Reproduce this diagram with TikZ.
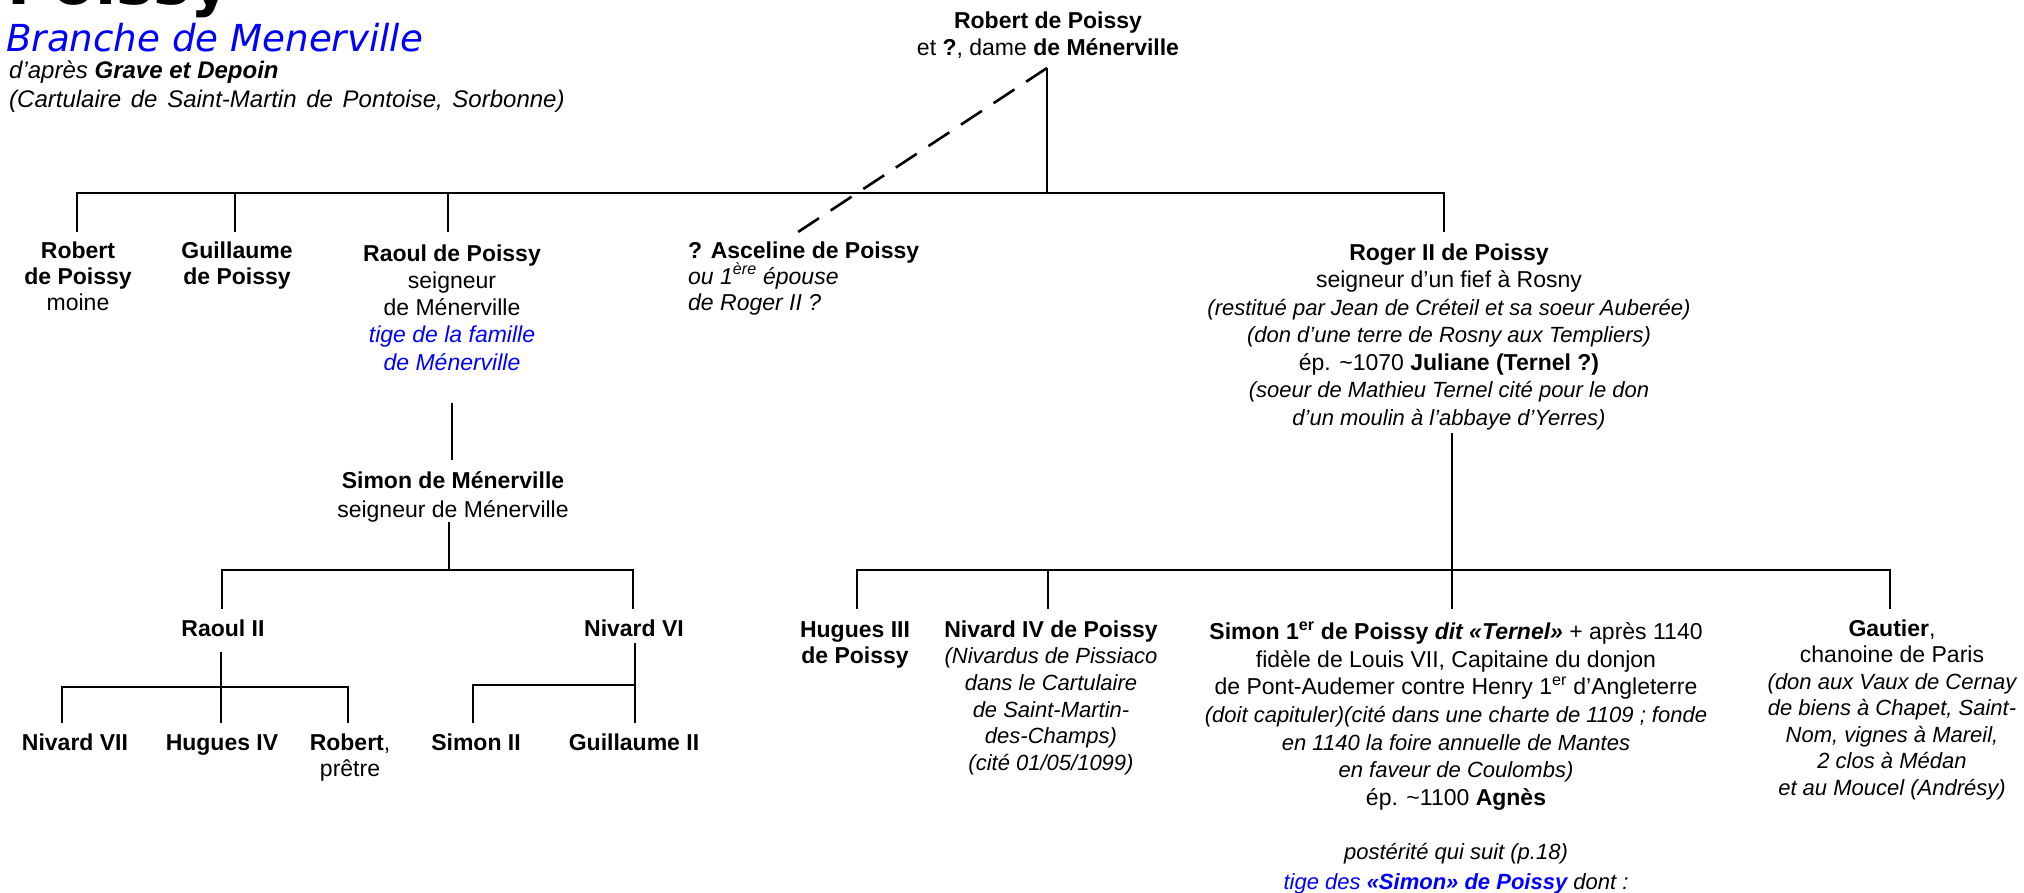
\documentclass[tikz,border=0pt]{standalone}
\usepackage{fontspec}
\setmainfont{Liberation Sans}
\newfontfamily\djv{DejaVu Sans}
\definecolor{tblue}{RGB}{0,0,255}
\newcommand{\nt}{\fontsize{22}{\baselineskip}\selectfont\itshape}
\tikzset{
  ln/.style={line width=2.6pt, draw=black},
  dashln/.style={line width=2.6pt, draw=black, dash pattern=on 25pt off 14pt},
  person/.style={align=center, inner sep=0pt, anchor=base, font=\fontsize{23}{#1}\selectfont},
  person/.default=26.5,
}
\begin{document}
\begin{tikzpicture}[x=1pt, y=-1pt]
\useasboundingbox (0,0) rectangle (2024,892);
\fill[white] (0,0) rectangle (2024,892);

% title block (node base = baseline of last line)
\node[anchor=base west, inner sep=0pt, font=\djv\bfseries\fontsize{62}{62}\selectfont] (title) at (7,4) {Poissy};
\node[anchor=base west, inner sep=0pt, text=tblue, font=\djv\itshape\fontsize{37.2}{40}\selectfont] (branch) at (6,51) {Branche de Menerville};
\node[anchor=base west, inner sep=0pt, align=left, font=\fontsize{24}{29}\selectfont\itshape] (source) at (9,107)
  {d’après \textbf{Grave et Depoin}\\{\spaceskip=9.7pt plus 2pt minus 1pt (Cartulaire de Saint-Martin de Pontoise, Sorbonne)}};

% root couple
\node[person=27] (root) at (1048,55) {\textbf{Robert de Poissy}\\et \textbf{?}, dame \textbf{de Ménerville}};

% level 1
\node[person=26] (robert) at (78,310) {\textbf{Robert}\\\textbf{de Poissy}\\moine};
\node[person=26] (guil) at (237,284) {\textbf{Guillaume}\\\textbf{de Poissy}};
\node[person=27.25] (raoul) at (452,370) {\textbf{Raoul de Poissy}\\seigneur\\de Ménerville\\{\itshape\color{tblue}tige de la famille}\\{\itshape\color{tblue}de Ménerville}};
\node[person=26, anchor=base west, align=left] (asc) at (688,310) {\textbf{? Asceline de Poissy}\\{\itshape ou 1\textsuperscript{ère} épouse}\\{\itshape de Roger II ?}};
\node[person=27.5] (roger) at (1449,425) {\textbf{Roger II de Poissy}\\seigneur d’un fief à Rosny\\{\nt (restitué par Jean de Créteil et sa soeur Auberée)}\\{\nt (don d’une terre de Rosny aux Templiers)}\\ép. \textasciitilde1070 \textbf{Juliane (Ternel ?)}\\{\nt (soeur de Mathieu Ternel cité pour le don}\\{\nt d’un moulin à l’abbaye d’Yerres)}};

% Menerville branch
\node[person=29] (simonm) at (453,517) {\textbf{Simon de Ménerville}\\seigneur de Ménerville};
\node[person] (raoul2) at (223,636) {\textbf{Raoul II}};
\node[person] (nivard6) at (634,636) {\textbf{Nivard VI}};
\node[person] (nivard7) at (75,750) {\textbf{Nivard VII}};
\node[person] (hugues4) at (222,750) {\textbf{Hugues IV}};
\node[person=26] (robertp) at (350,776) {\textbf{Robert},\\prêtre};
\node[person] (simon2) at (476,750) {\textbf{Simon II}};
\node[person] (guil2) at (634,750) {\textbf{Guillaume II}};

% Roger's children
\node[person=26] (hugues3) at (855,663) {\textbf{Hugues III}\\\textbf{de Poissy}};
\node[person=26.7] (nivard4) at (1051,770.5) {\textbf{Nivard IV de Poissy}\\{\nt (Nivardus de Pissiaco}\\{\nt dans le Cartulaire}\\{\nt de Saint-Martin-}\\{\nt des-Champs)}\\{\nt (cité 01/05/1099)}};
\node[person=27.7] (simon1) at (1456,889) {\textbf{Simon 1\textsuperscript{er} de Poissy} {\bfseries\itshape dit «Ternel»} + après 1140\\fidèle de Louis VII, Capitaine du donjon\\de Pont-Audemer contre Henry 1\textsuperscript{er} d’Angleterre\\{\nt (doit capituler)(cité dans une charte de 1109 ; fonde}\\{\nt en 1140 la foire annuelle de Mantes}\\{\nt en faveur de Coulombs)}\\ép. \textasciitilde1100 \textbf{Agnès}\\[26pt]{\nt postérité qui suit (p.18)}\\[2pt]{\nt{\color{tblue}tige des \textbf{«Simon» de Poissy}} dont :}};
\node[person=26.5] (gautier) at (1892,795) {\textbf{Gautier},\\chanoine de Paris\\{\nt (don aux Vaux de Cernay}\\{\nt de biens à Chapet, Saint-}\\{\nt Nom, vignes à Mareil,}\\{\nt 2 clos à Médan}\\{\nt et au Moucel (Andrésy)}};

% connectors: level 1
\coordinate (rootb) at (1047,68);
\coordinate (b1) at (0,193);
\coordinate (t-robert) at (77,232);
\coordinate (t-guil) at (235,232);
\coordinate (t-raoul) at (448,232);
\coordinate (t-roger) at (1444,232);
\coordinate (t-asc) at (798,232);
\draw[ln] (rootb) -- (rootb |- b1);
\draw[ln] (t-robert) -- (t-robert |- b1) -- (t-roger |- b1) -- (t-roger);
\draw[ln] (t-guil) -- (t-guil |- b1);
\draw[ln] (t-raoul) -- (t-raoul |- b1);
\draw[dashln] (rootb) -- (t-asc);

% Raoul -> Simon de Menerville
\coordinate (raoul-b) at (452,403);
\coordinate (simonm-t) at (452,460);
\draw[ln] (raoul-b) -- (simonm-t);
\coordinate (simonm-b) at (449,522);
\coordinate (b2) at (0,570);
\coordinate (t-raoul2) at (222,609);
\coordinate (t-nivard6) at (633,609);
\draw[ln] (simonm-b) -- (simonm-b |- b2);
\draw[ln] (t-raoul2) -- (t-raoul2 |- b2) -- (t-nivard6 |- b2) -- (t-nivard6);

% Raoul II children
\coordinate (raoul2-b) at (221,652);
\coordinate (b3) at (0,687);
\coordinate (t-nivard7) at (62,723);
\coordinate (t-hugues4) at (221,723);
\coordinate (t-robertp) at (348,723);
\draw[ln] (raoul2-b) -- (t-hugues4);
\draw[ln] (t-nivard7) -- (t-nivard7 |- b3) -- (t-robertp |- b3) -- (t-robertp);

% Nivard VI children
\coordinate (nivard6-b) at (635,643);
\coordinate (b4) at (0,685);
\coordinate (t-guil2) at (635,723);
\coordinate (t-simon2) at (473,723);
\draw[ln] (nivard6-b) -- (t-guil2);
\draw[ln] (t-simon2) -- (t-simon2 |- b4) -- (nivard6-b |- b4);

% Roger children
\coordinate (roger-b) at (1452,433);
\coordinate (b5) at (0,570);
\coordinate (t-hugues3) at (857,609);
\coordinate (t-nivard4) at (1048,609);
\coordinate (t-simon1) at (1452,609);
\coordinate (t-gautier) at (1890,609);
\draw[ln] (roger-b) -- (t-simon1);
\draw[ln] (t-hugues3) -- (t-hugues3 |- b5) -- (t-gautier |- b5) -- (t-gautier);
\draw[ln] (t-nivard4) -- (t-nivard4 |- b5);
\end{tikzpicture}
\end{document}
